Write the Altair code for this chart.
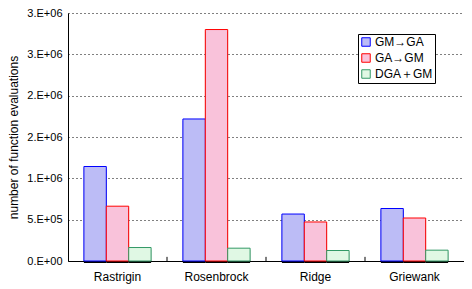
import altair as alt
import pandas as pd

categories = ["Rastrigin", "Rosenbrock", "Ridge", "Griewank"]
series = ["GM→GA", "GA→GM", "DGA＋GM"]
gm_ga = [1143000, 1718000, 568000, 635000]
ga_gm = [663000, 2800000, 472000, 520000]
dga_gm = [163000, 155000, 127000, 131000]
y_ticks = [0, 500000, 1000000, 1500000, 2000000, 2500000, 3000000]
y_tick_labels = ["0.E+00", "5.E+05", "1.E+06", "2.E+06", "2.E+06", "3.E+06", "3.E+06"]
fill_colors = ["#bcbcf6", "#f9c2da", "#e0f8e4"]
stroke_colors = ["#0000ff", "#ff0000", "#339966"]
tick_len = 50000

rows = []
for s, vals in zip(series, [gm_ga, ga_gm, dga_gm]):
    for c, v in zip(categories, vals):
        rows.append({"category": c, "series": s, "value": v})
df = pd.DataFrame(rows)
tick_df = pd.DataFrame({"category": categories[1:]})

label_expr = "[" + ",".join(f"'{t}'" for t in y_tick_labels) + "][round(datum.value/500000)]"

FONT = "Liberation Sans"

x_scale = alt.Scale(paddingInner=0, paddingOuter=0)
x_enc = alt.X(
    "category:N", sort=categories, scale=x_scale,
    axis=alt.Axis(title=None, labelAngle=0, ticks=False, labelPadding=10,
                  labelFontSize=12, labelFont=FONT, labelColor="black",
                  domainColor="black", grid=False),
)
xoff_enc = alt.XOffset("series:N", sort=series,
                       scale=alt.Scale(paddingOuter=0.71, paddingInner=0))
y_enc = alt.Y(
    "value:Q",
    scale=alt.Scale(domain=[0, 3000000]),
    axis=alt.Axis(values=y_ticks, labelExpr=label_expr,
                  title="number of function evaluations",
                  titleFont=FONT, titleFontSize=12, titleFontWeight="normal",
                  titleColor="black", titleX=-48,
                  ticks=False, labelPadding=6, labelFontSize=11, labelFont=FONT,
                  labelColor="black", domainColor="black",
                  grid=True, gridDash=[1, 3], gridColor="black", gridOpacity=1),
)

shadow = alt.Chart(df).mark_bar(color="black", xOffset=2, x2Offset=2,
                                yOffset=2, y2Offset=0).encode(
    x=x_enc, xOffset=xoff_enc, y=y_enc
)

bars = alt.Chart(df).mark_bar(strokeWidth=1).encode(
    x=x_enc, xOffset=xoff_enc, y=y_enc,
    fill=alt.Fill("series:N", sort=series,
                  scale=alt.Scale(domain=series, range=fill_colors),
                  legend=alt.Legend(title=None, orient="none", legendX=290, legendY=21,
                                    symbolType="square", symbolSize=72,
                                    labelFont=FONT, labelFontSize=12, labelColor="black",
                                    strokeColor="black", fillColor="white", padding=2,
                                    rowPadding=2, labelOffset=3, symbolStrokeWidth=1)),
    stroke=alt.Stroke("series:N", sort=series,
                      scale=alt.Scale(domain=series, range=stroke_colors)),
)

ticks = alt.Chart(tick_df).mark_rule(color="black", strokeWidth=1).encode(
    x=alt.X("category:N", sort=categories, scale=x_scale, bandPosition=0),
    y=alt.datum(0),
    y2=alt.datum(tick_len),
)

chart = alt.layer(shadow, bars, ticks).properties(
    width=396, height=248,
    autosize=alt.AutoSizeParams(type="none"),
    padding={"left": 60, "top": 5, "right": 0, "bottom": 26},
).configure_view(stroke=None).configure_axis(domainWidth=1)

chart.save("out.html", embed_options={"renderer": "svg", "actions": False})
